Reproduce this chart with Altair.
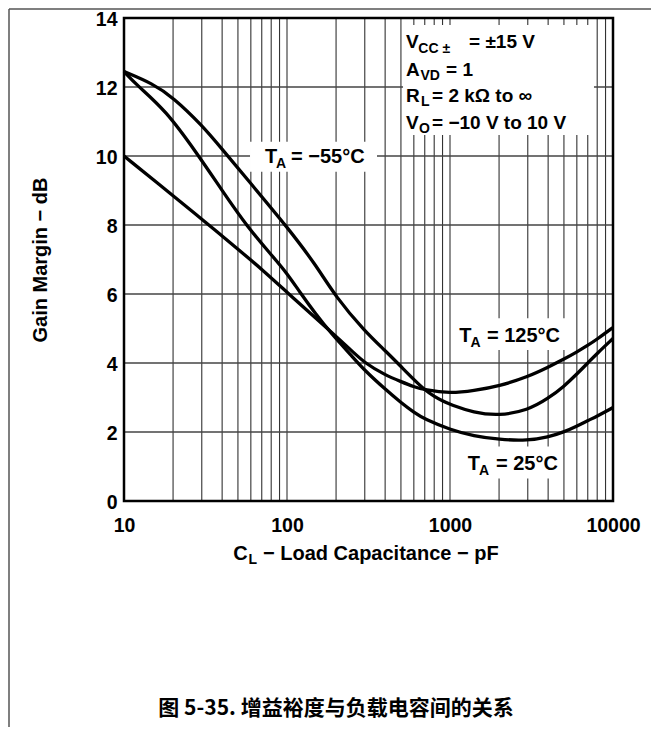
import altair as alt
import pandas as pd

# ---------------- data ----------------
# T_A = -55 °C
CAP_M55 = [10, 15, 20, 30, 40, 60, 100, 150, 200, 300, 400, 500, 600, 700, 800, 900,
           1000, 1400, 2000, 3000, 4000, 5000, 6000, 7000, 8000, 10000]
GM_M55 = [12.45, 12.1, 11.7, 10.9, 10.2, 9.2, 7.95, 6.85, 5.9, 4.92, 4.36, 3.9, 3.52,
          3.22, 3.03, 2.9, 2.8, 2.56, 2.47, 2.63, 2.97, 3.32, 3.68, 4.0, 4.28, 4.71]

# T_A = 125 °C
CAP_125 = [10, 20, 30, 50, 70, 100, 150, 185, 250, 300, 400, 500, 600, 700, 1000,
           1400, 2000, 3000, 4000, 5000, 6000, 7000, 8000, 10000]
GM_125 = [10.0, 8.85, 8.17, 7.3, 6.72, 6.05, 5.3, 4.92, 4.35, 4.0, 3.65, 3.46, 3.31,
          3.22, 3.12, 3.2, 3.33, 3.60, 3.88, 4.11, 4.32, 4.51, 4.69, 5.03]

# T_A = 25 °C
CAP_25 = [10, 12, 18, 28, 40, 57, 82, 100, 120, 150, 185, 250, 300, 400, 500, 600,
          700, 1000, 1400, 2000, 3000, 4000, 5000, 6000, 7000, 8000, 10000]
GM_25 = [12.45, 12.05, 11.33, 10.08, 9.0, 7.95, 7.08, 6.6, 6.05, 5.42, 4.88, 4.2, 3.78,
         3.24, 2.85, 2.57, 2.37, 2.07, 1.88, 1.78, 1.75, 1.85, 2.0, 2.17, 2.33, 2.46, 2.71]

X_DOMAIN = [10, 10000]
Y_DOMAIN = [0, 14]
X_TICKS = [10, 100, 1000, 10000]
Y_TICKS = [0, 2, 4, 6, 8, 10, 12, 14]
V_GRID = [20, 30, 40, 50, 60, 70, 80, 90, 100,
          200, 300, 400, 500, 600, 700, 800, 900, 1000,
          2000, 3000, 4000, 5000, 6000, 7000, 8000, 9000]
H_GRID = [2, 4, 6, 8, 10, 12]

# white label boxes (data coordinates)
BOX_X = [515, 59.3, 1073, 1185]
BOX_X2 = [7644, 356.6, 5150, 4880]
BOX_Y = [13.80, 10.41, 5.30, 1.58]
BOX_Y2 = [10.61, 9.54, 4.38, 0.65]

# text segments (main text + subscripts), anchored in data coordinates
TXT = ["V", "CC ±", "= ±15 V",
       "A", "VD", "= 1",
       "R", "L", "= 2 kΩ to ∞",
       "V", "O", "= −10 V to 10 V",
       "T", "A", "= −55°C",
       "T", "A", "= 125°C",
       "T", "A", "= 25°C",
       "C", "L", "− Load Capacitance − pF"]
TXT_X = [537.2, 639.0, 1308,
         537.2, 659.2, 945.2,
         537.2, 663.9, 775.6,
         537.2, 645.5, 775.6,
         73.28, 85.6, 105.8,
         1140.4, 1336, 1686,
         1284, 1506.5, 1915,
         46.84, 58.05, 71.25]
TXT_Y = [13.116, 13.0, 13.116,
         12.333, 12.217, 12.333,
         11.565, 11.449, 11.565,
         10.797, 10.681, 10.797,
         9.788, 9.643, 9.788,
         4.617, 4.472, 4.617,
         0.899, 0.754, 0.899,
         -1.710, -1.835, -1.710]
TXT_SIZE = [19, 14, 19,
            19, 14, 19,
            19, 14, 19,
            19, 14, 19,
            20, 14, 20,
            20, 14, 20,
            20, 14, 20,
            20, 14, 20]

CAPTION = "图 5-35. 增益裕度与负载电容间的关系"
CAPTION_X = 199.8
CAPTION_Y = -6.2

Y_TITLE = "Gain Margin − dB"

# ---------------- build ----------------
W, H = 489, 483
FONT = "Liberation Sans"

curves = pd.concat([
    pd.DataFrame({"cap": CAP_M55, "gm": GM_M55, "series": "-55"}),
    pd.DataFrame({"cap": CAP_125, "gm": GM_125, "series": "125"}),
    pd.DataFrame({"cap": CAP_25, "gm": GM_25, "series": "25"}),
])

xscale = alt.Scale(type="log", domain=X_DOMAIN, nice=False)
yscale = alt.Scale(domain=Y_DOMAIN, nice=False, zero=False)

xaxis = alt.Axis(values=X_TICKS, format="d", title=None, grid=False, ticks=False,
                 tickSize=0, domain=False, labelFlush=False, labelOverlap=False,
                 labelFont=FONT, labelFontSize=19.5, labelFontWeight="bold",
                 labelColor="black", labelBaseline="alphabetic", labelPadding=30.5)
yaxis = alt.Axis(values=Y_TICKS, title=Y_TITLE, grid=False, ticks=False, tickSize=0,
                 domain=False, labelFlush=False, labelOverlap=False,
                 labelFont=FONT, labelFontSize=19.5, labelFontWeight="bold",
                 labelColor="black", labelPadding=7, labelOffset=1.5,
                 titleFont=FONT, titleFontSize=20, titleFontWeight="bold",
                 titleColor="black", titleAngle=270, titleAlign="center",
                 titleBaseline="alphabetic", titleX=-77.5, titleY=H / 2)


def X(field):
    return alt.X(field, type="quantitative", scale=xscale, axis=xaxis)


def Y(field):
    return alt.Y(field, type="quantitative", scale=yscale, axis=yaxis)


vgrid = alt.Chart(pd.DataFrame({"c": V_GRID})).mark_rule(
    color="#333333", strokeWidth=1.1).encode(x=X("c"))
hgrid = alt.Chart(pd.DataFrame({"g": H_GRID})).mark_rule(
    color="#444444", strokeWidth=1.3).encode(y=Y("g"))

boxes = alt.Chart(pd.DataFrame({"x": BOX_X, "x2": BOX_X2, "y": BOX_Y, "y2": BOX_Y2})).mark_rect(
    color="white").encode(x=X("x"), x2="x2", y=Y("y"), y2="y2")

lines = alt.Chart(curves).mark_line(
    color="black", strokeWidth=3.3, interpolate="basis").encode(
    x=X("cap"), y=Y("gm"), detail="series:N", order="cap:Q")

frame = alt.Chart(pd.DataFrame({"x": [X_DOMAIN[0]], "x2": [X_DOMAIN[1]],
                                "y": [Y_DOMAIN[0]], "y2": [Y_DOMAIN[1]]})).mark_rect(
    filled=False, color="black", strokeWidth=2.5).encode(
    x=X("x"), x2="x2", y=Y("y"), y2="y2")

texts = alt.Chart(pd.DataFrame({"x": TXT_X, "y": TXT_Y, "t": TXT, "s": TXT_SIZE})).mark_text(
    align="left", baseline="alphabetic", font=FONT, fontWeight="bold", color="black").encode(
    x=X("x"), y=Y("y"), text="t:N", size=alt.Size("s:Q", scale=None))

caption = alt.Chart(pd.DataFrame({"x": [CAPTION_X], "y": [CAPTION_Y], "t": [CAPTION]})).mark_text(
    align="center", baseline="alphabetic", font="Noto Sans CJK SC", fontWeight="bold",
    fontSize=21, color="black").encode(x=X("x"), y=Y("y"), text="t:N")

page_top = alt.Chart(pd.DataFrame({"k": [0]})).mark_rule(color="#555555", strokeWidth=1.5).encode(
    x=alt.value(-115), x2=alt.value(W + 38), y=alt.value(-9))
page_left = alt.Chart(pd.DataFrame({"k": [0]})).mark_rule(color="#555555", strokeWidth=1.5).encode(
    x=alt.value(-115), y=alt.value(-9), y2=alt.value(H + 226))

chart = alt.layer(vgrid, hgrid, boxes, lines, frame, texts, caption, page_top, page_left).properties(
    width=W, height=H,
    padding={"left": 116, "top": 10, "right": 38, "bottom": 226},
    autosize=alt.AutoSizeParams(type="none"),
).configure_view(stroke=None).configure(background="white")

chart.save("out.html", embed_options={"renderer": "svg", "actions": False})
